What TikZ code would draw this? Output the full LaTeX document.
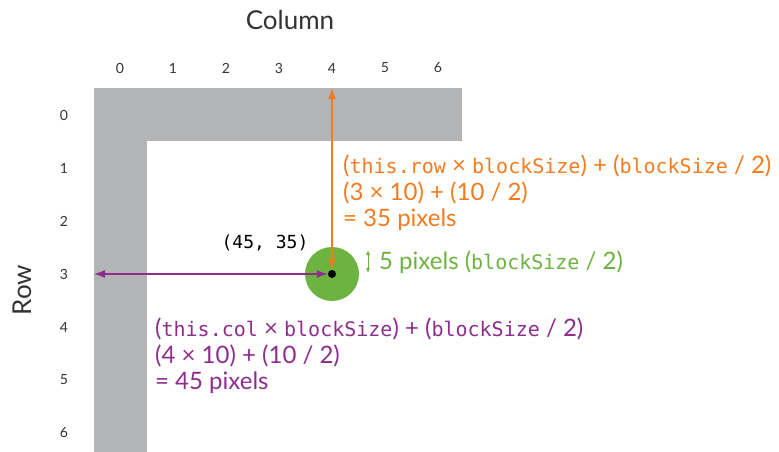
\documentclass[tikz,border=0pt]{standalone}
\usepackage{fontspec}
\setmainfont{Lato}
\setmonofont{DejaVu Sans Mono}
\usetikzlibrary{arrows.meta,positioning}

\definecolor{wallgray}{HTML}{B3B4B6}
\definecolor{rowcolor}{HTML}{F47B20}
\definecolor{colcolor}{HTML}{8E2D8E}
\definecolor{ballgreen}{HTML}{6DB33F}
\definecolor{labelgray}{HTML}{333333}
\newcommand{\code}[1]{{\fontsize{20}{26.5}\ttfamily #1}}

\begin{document}
\begin{tikzpicture}[
    x=1pt, y=-1pt,
    idx/.style={font=\fontsize{14}{16}\selectfont, text=labelgray},
    axis/.style={font=\fontsize{26}{30}\selectfont, text=labelgray},
    note/.style={
      font=\fontsize{24}{26.5}\selectfont,
      align=left,
      anchor=north west,
      inner sep=0pt
    },
    measure/.style={{Latex[length=11pt,width=8pt]}-{Latex[length=11pt,width=8pt]}, line width=1.5pt}
  ]
    \useasboundingbox (0,0) rectangle (779,452);
    % walls
    \fill[wallgray] (94,88) rectangle (462,141);
    \fill[wallgray] (94,141) rectangle (147,452);
    % axes
    \node[axis] (colaxis) at (290,20) {Column};
    \node[axis, rotate=90] (rowaxis) at (22,290) {Row};
    \foreach \i in {0,...,6} {
      \node[idx] (c\i) at (120+53*\i,68) {\i};
      \node[idx] (r\i) at (64,115+53*\i) {\i};
    }
    % ball
    \node[circle, fill=ballgreen, minimum size=54pt, inner sep=0pt] (ball) at (332,274) {};
    \node[circle, fill=black, minimum size=8pt, inner sep=0pt] (centre) at (ball) {};
    \node[font=\fontsize{18}{20}\ttfamily, text=black] (pos) at (265,243) {(45, 35)};
    % measures
    \coordinate (rowtop) at (332,88);
    \coordinate (colleft) at (94,274);
    \draw[measure, rowcolor] (rowtop) -- (centre);
    \draw[measure, colcolor] (colleft) -- (centre);
    \coordinate (rad1) at (368,250);
    \coordinate (rad2) at (368,273);
    \draw[{Latex[length=5pt,width=4pt]}-{Latex[length=5pt,width=4pt]}, ballgreen, line width=0.8pt] (rad1) -- (rad2);
    % notes
    \node[note, text=rowcolor] (rownote) at (343,155) {
      (\code{this.row} × \code{blockSize}) + (\code{blockSize} / 2)\\
      (3 × 10) + (10 / 2)\\
      = 35 pixels
    };
    \node[note, text=ballgreen, anchor=west] (radnote) at (379,262) {5 pixels (\code{blockSize} / 2)};
    \node[note, text=colcolor] (colnote) at (155,318) {
      (\code{this.col} × \code{blockSize}) + (\code{blockSize} / 2)\\
      (4 × 10) + (10 / 2)\\
      = 45 pixels
    };
  \end{tikzpicture}
\end{document}
